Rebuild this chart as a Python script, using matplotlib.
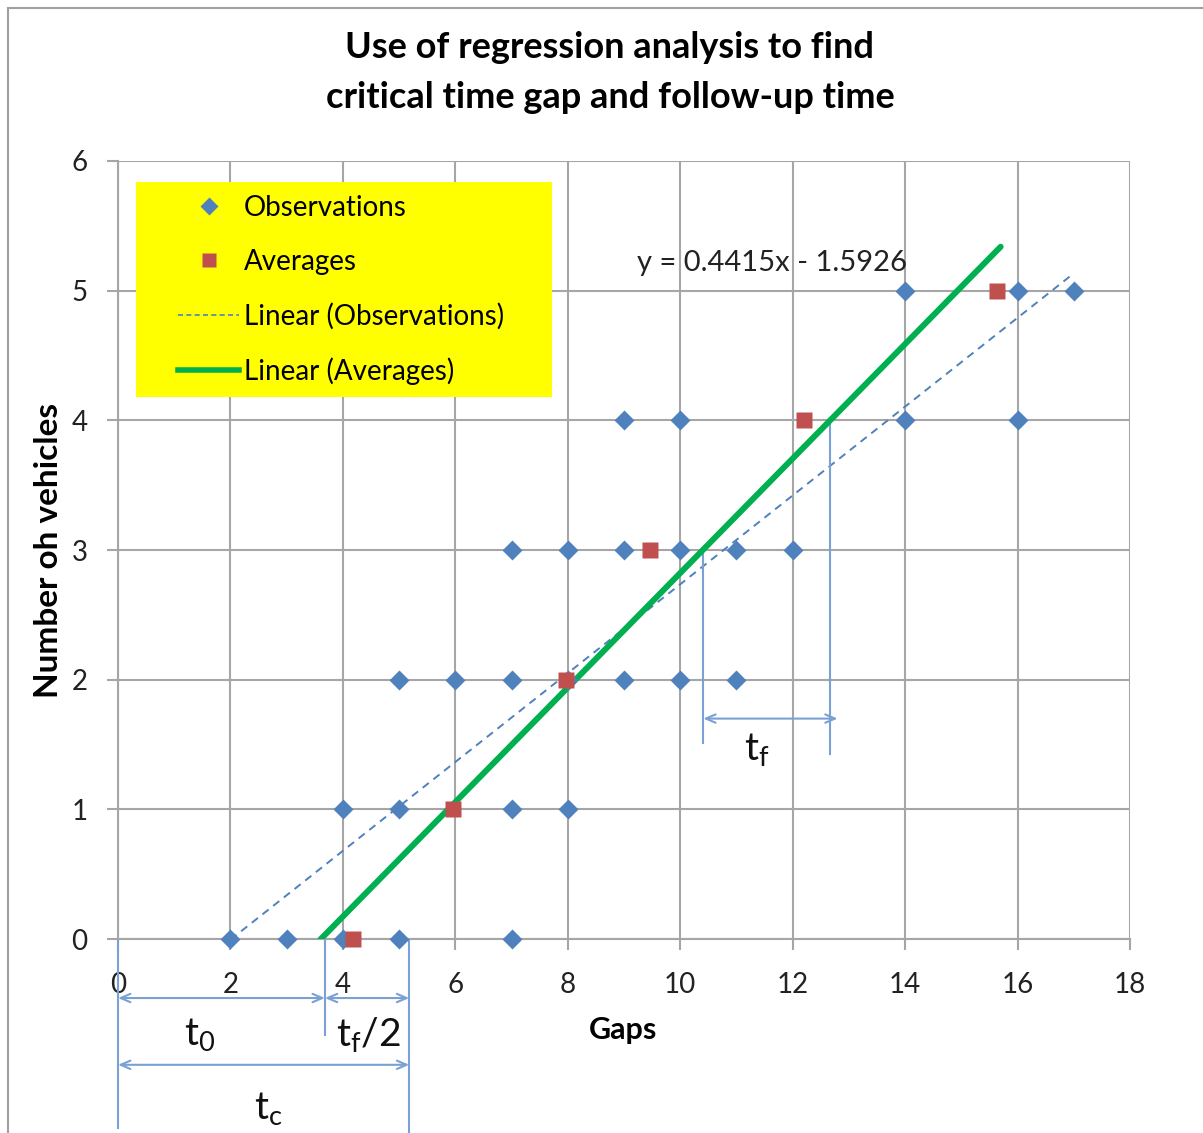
import numpy as np
import matplotlib as mpl
mpl.use('Agg')
import matplotlib.pyplot as plt
from matplotlib.patches import Rectangle
from matplotlib.lines import Line2D

plt.rcParams['font.family'] = ['Lato', 'DejaVu Sans']
plt.rcParams['mathtext.fontset'] = 'custom'
plt.rcParams['mathtext.rm'] = 'Lato'
plt.rcParams['mathtext.it'] = 'Lato'

# observations (gap, number of vehicles)
obs_x = [2, 3, 4, 5, 7,
         4, 5, 7, 8,
         5, 6, 7, 8, 9, 10, 11,
         7, 8, 9, 10, 11, 12,
         9, 10, 14, 16,
         14, 16, 17]
obs_y = [0, 0, 0, 0, 0,
         1, 1, 1, 1,
         2, 2, 2, 2, 2, 2, 2,
         3, 3, 3, 3, 3, 3,
         4, 4, 4, 4,
         5, 5, 5]

avg_x = [4.18, 5.95, 7.97, 9.47, 12.2, 15.64]
avg_y = [0, 1, 2, 3, 4, 5]

# trendline of the averages as printed on the chart
avg_slope = 0.4415
avg_icpt = -1.5926
avg_line_x = [3.6, 15.7]

# construction marks
t0_x = 3.68
tc_x = 5.18
tf_x = [10.41, 12.66]

c_obs = '#4f81bd'
c_avg = '#c0504d'
c_grn = '#00b050'
c_ann = '#7aa0d4'
c_grid = '#a6a6a6'

fig = plt.figure(figsize=(12.03, 11.33), dpi=100)
ax = fig.add_axes([0.0981, 0.1712, 0.8412, 0.6867])

fig.patches.append(Rectangle((8 / 1203, -0.2), 1.5, 1.2 - 8 / 1133,
                             transform=fig.transFigure, fill=False,
                             edgecolor='#a0a0a0', lw=1.5))

ax.set_xlim(0, 18)
ax.set_ylim(0, 6)
ax.set_xticks(range(0, 19, 2))
ax.set_yticks(range(0, 7))
ax.grid(True, color=c_grid, lw=1.5)
ax.set_axisbelow(True)
for s in ['top', 'right']:
    ax.spines[s].set_visible(False)
for s in ['left', 'bottom']:
    ax.spines[s].set_color(c_grid)
    ax.spines[s].set_linewidth(1.5)
ax.tick_params(colors=c_grid, labelcolor='#222222', labelsize=20, length=8, width=1.5)
ax.tick_params(axis='x', pad=16)
ax.tick_params(axis='y', pad=14)

# trend of observations (least squares over the data span)
k, b = np.polyfit(obs_x, obs_y, 1)
ox = np.array([min(obs_x), max(obs_x)])
ax.plot(ox, k * ox + b, color=c_obs, lw=1.4, ls=(0, (4, 3)), zorder=2)

ax.plot(obs_x, obs_y, 'D', color=c_obs, ms=10, mec='none', zorder=4, clip_on=False)
ax.plot(avg_x, avg_y, 's', color=c_avg, ms=11, mec='none', zorder=5, clip_on=False)

gx = np.array(avg_line_x)
ax.plot(gx, avg_slope * gx + avg_icpt, color=c_grn, lw=4.3, zorder=3,
        solid_capstyle='round')

ax.text(9.23, 5.21, 'y = %.4fx - %.4f' % (avg_slope, -avg_icpt), fontsize=21,
        color='#222222', va='center', ha='left')

# vertical construction lines and dimension arrows
ak = dict(clip_on=False, color=c_ann, lw=1.5)
ax.plot([0, 0], [0, -1.46], **ak)
ax.plot([t0_x, t0_x], [0, -0.74], **ak)
ax.plot([tc_x, tc_x], [0, -1.6], **ak)
ax.plot([tf_x[0], tf_x[0]], [3, 1.51], **ak)
ax.plot([tf_x[1], tf_x[1]], [4, 1.43], **ak)

def dim(x0, x1, y):
    ax.annotate('', xy=(x1, y), xytext=(x0, y), annotation_clip=False,
                arrowprops=dict(arrowstyle='<->,head_length=0.7,head_width=0.3',
                                color=c_ann, lw=1.5, shrinkA=0, shrinkB=0))

dim(0, t0_x, -0.455)
dim(t0_x, tc_x, -0.455)
dim(0, tc_x, -0.97)
dim(tf_x[0], 12.8, 1.70)

tk = dict(fontsize=28, color='#111111', ha='center', va='center')
ax.text(1.46, -0.74, r'$\mathrm{t_0}$', **tk)
ax.text(4.45, -0.74, r'$\mathrm{t_f/2}$', **tk)
ax.text(2.68, -1.31, r'$\mathrm{t_c}$', **tk)
ax.text(11.37, 1.46, r'$\mathrm{t_f}$', **tk)

ax.set_xlabel('Gaps', fontsize=22, fontweight='bold', va='center')
ax.set_ylabel('Number oh vehicles', fontsize=24, fontweight='bold', va='center')
ax.xaxis.set_label_coords((623 - 118) / 1012, -(1030 - 939) / 778)
ax.yaxis.set_label_coords(-(118 - 48) / 1012, (939 - 550) / 778)

fig.text(0.507, 1 - 47 / 1133, 'Use of regression analysis to find',
         fontsize=26, fontweight='bold', ha='center', va='center')
fig.text(0.507, 1 - 98 / 1133, 'critical time gap and follow-up time',
         fontsize=26, fontweight='bold', ha='center', va='center')

# legend on a yellow panel
ax.add_patch(Rectangle(((136 - 118) / 1012, (939 - 397) / 778), 416 / 1012, 215 / 778,
                       transform=ax.transAxes, facecolor='#ffff00',
                       edgecolor='none', zorder=6))
handles = [
    Line2D([], [], ls='none', marker='D', color=c_obs, ms=9, mec='none'),
    Line2D([], [], ls='none', marker='s', color=c_avg, ms=10, mec='none'),
    Line2D([], [], color=c_obs, lw=1.2, ls=(0, (3, 2))),
    Line2D([], [], color=c_grn, lw=4),
]
labels = ['Observations', 'Averages', 'Linear (Observations)', 'Linear (Averages)']
leg = ax.legend(handles, labels, loc='upper left', frameon=False, fontsize=20,
                bbox_to_anchor=((178 - 118) / 1012, (939 - 195) / 778),
                borderaxespad=0, borderpad=0, handlelength=2.2,
                handletextpad=0.18, labelspacing=1.0)
leg.set_zorder(7)

fig.savefig('out.png', dpi=100)
